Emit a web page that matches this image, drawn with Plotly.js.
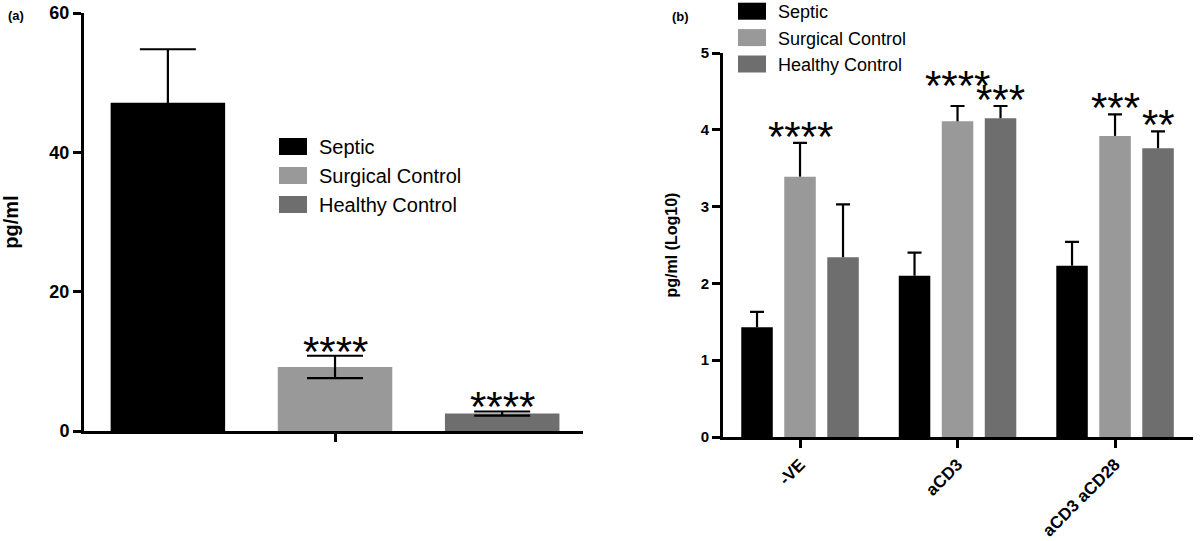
<!DOCTYPE html>
<html>
<head>
<meta charset="utf-8">
<script src="https://cdn.plot.ly/plotly-3.0.1.min.js"></script>
<style>
html,body{margin:0;padding:0;background:#ffffff;}
#chart{width:1200px;height:541px;}
</style>
</head>
<body>
<div id="chart"></div>
<script>
// ---------------- DATA ----------------
const seriesNames = ['Septic', 'Surgical Control', 'Healthy Control'];

// Panel (a): one measurement, three groups
const categoriesA = ['pg/ml'];
const septicA = [47.1];
const septicErrA = [7.7];
const surgicalA = [9.2];
const surgicalErrA = [1.6];
const healthyA = [2.5];
const healthyErrA = [0.3];
const starsA = ['', '****', '****'];

// Panel (b): three stimulation conditions
const categoriesB = ['-VE', 'aCD3', 'aCD3 aCD28'];
const septicB = [1.43, 2.10, 2.23];
const septicErrB = [0.20, 0.30, 0.31];
const surgicalB = [3.39, 4.11, 3.92];
const surgicalErrB = [0.44, 0.20, 0.28];
const healthyB = [2.34, 4.15, 3.76];
const healthyErrB = [0.69, 0.16, 0.22];
const starsSeptB = ['', '', ''];
const starsSurgB = ['****', '****', '***'];
const starsHealB = ['', '***', '**'];

// ---------------- STYLE ----------------
const FONT = 'Liberation Sans, Arial, Helvetica, sans-serif';
const colors = ['#000000', '#999999', '#6e6e6e'];
const BARGAP = 0.181, BARGROUPGAP = 0.267;
const slot = (1 - BARGAP) / 3;

const valsA = [septicA, surgicalA, healthyA];
const errsA = [septicErrA, surgicalErrA, healthyErrA];
const valsB = [septicB, surgicalB, healthyB];
const errsB = [septicErrB, surgicalErrB, healthyErrB];
const starsB = [starsSeptB, starsSurgB, starsHealB];

const traces = [];
// Panel (a) bars, symmetric error bars
seriesNames.forEach((name, i) => {
  traces.push({
    type: 'bar', x: categoriesA, y: valsA[i], name: name,
    xaxis: 'x', yaxis: 'y', legend: 'legend',
    width: 0.187,
    marker: {color: colors[i], line: {width: 0}},
    error_y: {type: 'data', array: errsA[i], visible: true, color: '#000', thickness: 2.2, width: 28},
    hoverinfo: 'skip'
  });
});
// Panel (b) bars, upward-only error stems
seriesNames.forEach((name, i) => {
  traces.push({
    type: 'bar', x: categoriesB, y: valsB[i], name: name,
    xaxis: 'x2', yaxis: 'y2', legend: 'legend2', offsetgroup: 'g' + i,
    marker: {color: colors[i], line: {width: 0}},
    error_y: {type: 'data', symmetric: false, array: errsB[i], arrayminus: valsB[i].map(() => 0),
              visible: true, color: '#000', thickness: 2.2, width: 0},
    hoverinfo: 'skip'
  });
});
// Panel (b) caps on top of the error stems (transparent bars in same offset group)
seriesNames.forEach((name, i) => {
  traces.push({
    type: 'bar', x: categoriesB, y: valsB[i].map((v, k) => v + errsB[i][k]), name: name + ' cap',
    xaxis: 'x2', yaxis: 'y2', showlegend: false, offsetgroup: 'g' + i,
    marker: {color: 'rgba(0,0,0,0)', line: {width: 0}},
    error_y: {type: 'data', array: valsB[i].map(() => 0), visible: true, color: '#000', thickness: 2.2, width: 7},
    hoverinfo: 'skip'
  });
});

// Significance stars as annotations
const annotations = [];
const starFont = {family: FONT, size: 42, color: '#000'};
seriesNames.forEach((name, i) => {
  if (starsA[i]) {
    annotations.push({xref: 'x', yref: 'y', x: (i - 1) * slot, y: valsA[i][0] + errsA[i][0],
      text: starsA[i], showarrow: false, yanchor: 'bottom', yshift: -21, font: starFont});
  }
  categoriesB.forEach((c, k) => {
    if (starsB[i][k]) {
      const extra = (k === 1 && i === 1) ? 14 : 0;
      annotations.push({xref: 'x2', yref: 'y2', x: k + (i - 1) * slot, y: valsB[i][k] + errsB[i][k],
        text: starsB[i][k], showarrow: false, yanchor: 'bottom', yshift: -19 + extra, font: starFont});
    }
  });
});
annotations.push({xref: 'paper', yref: 'paper', x: 16 / 1200, y: 1 - 15 / 541, text: '<b>(a)</b>',
  showarrow: false, xanchor: 'center', yanchor: 'middle', font: {family: FONT, size: 13, color: '#000'}});
annotations.push({xref: 'paper', yref: 'paper', x: 680 / 1200, y: 1 - 16 / 541, text: '<b>(b)</b>',
  showarrow: false, xanchor: 'center', yanchor: 'middle', font: {family: FONT, size: 13, color: '#000'}});

const axisCommon = {
  showline: true, linecolor: '#000', linewidth: 3, mirror: false,
  ticks: 'outside', ticklen: 8, tickwidth: 3, tickcolor: '#000',
  showgrid: false, zeroline: false, fixedrange: true, automargin: false
};

const layout = {
  width: 1200, height: 541,
  margin: {l: 0, r: 0, t: 0, b: 0, pad: 0, autoexpand: false},
  paper_bgcolor: '#fff', plot_bgcolor: '#fff',
  font: {family: FONT, color: '#000'},
  barmode: 'group', bargap: BARGAP, bargroupgap: BARGROUPGAP,
  xaxis: Object.assign({}, axisCommon, {
    domain: [84 / 1200, 583 / 1200], type: 'category', range: [-0.41, 0.405],
    showticklabels: false, anchor: 'y'
  }),
  yaxis: Object.assign({}, axisCommon, {
    domain: [110 / 541, 528 / 541], range: [0, 60], dtick: 20, anchor: 'x',
    tickfont: {family: FONT, size: 18, weight: 'bold', color: '#000'},
    title: {text: 'pg/ml', font: {family: FONT, size: 20, weight: 'bold', color: '#000'}, standoff: 26}
  }),
  xaxis2: Object.assign({}, axisCommon, {
    domain: [723 / 1200, 1193 / 1200], type: 'category', range: [-0.489, 2.495], anchor: 'y2',
    tickangle: -45,
    tickfont: {family: FONT, size: 17, weight: 'bold', color: '#000'}
  }),
  yaxis2: Object.assign({}, axisCommon, {
    domain: [104 / 541, 488 / 541], range: [0, 5], dtick: 1, anchor: 'x2',
    tickfont: {family: FONT, size: 15, weight: 'bold', color: '#000'},
    title: {text: 'pg/ml (Log10)', font: {family: FONT, size: 16, weight: 'bold', color: '#000'}, standoff: 20}
  }),
  legend: {
    x: 279 / 1200, y: 1 - 127 / 541, xanchor: 'left', yanchor: 'top',
    font: {family: FONT, size: 20, color: '#000'}, bgcolor: 'rgba(0,0,0,0)', borderwidth: 0
  },
  legend2: {
    x: 738 / 1200, y: 1 + 7 / 541, xanchor: 'left', yanchor: 'top',
    font: {family: FONT, size: 18, color: '#000'}, bgcolor: 'rgba(0,0,0,0)', borderwidth: 0
  },
  showlegend: true,
  annotations: annotations
};

Plotly.newPlot('chart', traces, layout, {staticPlot: true, displayModeBar: false}).then(gd => {
  // enlarge legend swatches to GraphPad-style rectangles
  gd.querySelectorAll('g.legendpoints path').forEach(p => {
    p.setAttribute('d', 'M8,8.5H-22V-8.5H8Z');
  });
});
</script>
</body>
</html>
